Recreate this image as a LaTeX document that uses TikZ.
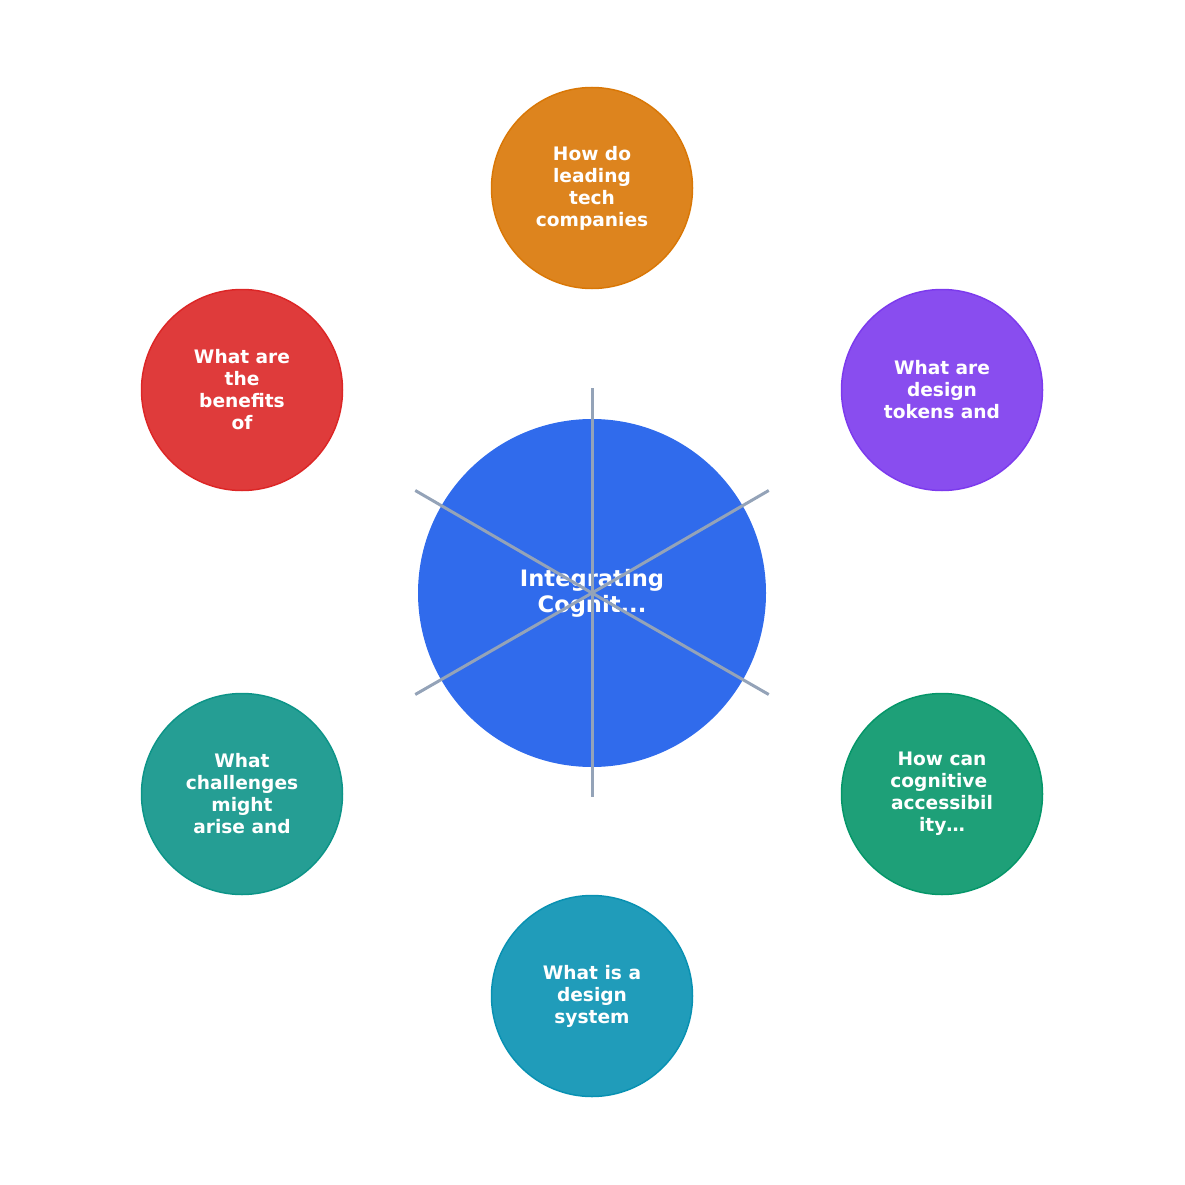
\documentclass[tikz,border=0pt]{standalone}
\usepackage{fontspec}
\setmainfont{DejaVu Sans}
\usetikzlibrary{calc}
\definecolor{hubblue}{HTML}{2563EB}
\definecolor{qorange}{HTML}{D97706}
\definecolor{qpurple}{HTML}{7C3AED}
\definecolor{qgreen}{HTML}{059669}
\definecolor{qcyan}{HTML}{0891B2}
\definecolor{qteal}{HTML}{0D9488}
\definecolor{qred}{HTML}{DC2626}
\definecolor{spokegray}{HTML}{94A3B8}

\begin{document}
\begin{tikzpicture}[x=1pt,y=1pt,yscale=-1,xscale=1,
  hub/.style={circle,minimum size=348pt,inner sep=0pt,fill=hubblue,fill opacity=0.95,text opacity=1,
    text=white,align=center,font=\fontsize{22.6}{26}\selectfont\bfseries},
  topic/.style={circle,minimum size=201pt,inner sep=0pt,line width=1.5pt,draw=#1,fill=#1,fill opacity=0.9,
    draw opacity=1,text opacity=1,text=white,align=center,font=\fontsize{18.6}{22}\selectfont\bfseries},
  spoke/.style={spokegray,line width=3pt}]
%set diagram to the full 1185 x 1185 frame
\path [use as bounding box] (0,0) rectangle (1185,1185);

% Central node
\node [hub] (hub) at (592,593) {Integrating\\Cognit...};

% Question nodes
\node [topic=qorange] (q1) at (592,188) {How do\\leading\\tech\\companies};
\node [topic=qpurple] (q2) at (942,390) {What are\\design\\tokens and};
\node [topic=qgreen] (q3) at (942,794) {How can\\cognitive\kern0.35em\\accessibil\\ity…};
\node [topic=qcyan] (q4) at (592,996) {What is a\\design\\system};
\node [topic=qteal] (q5) at (242,794) {What\\challenges\\might\\arise and};
\node [topic=qred] (q6) at (242,390) {What are\\the\\benefits\\of};

% Spokes
\foreach \q in {q1,q2,q3,q4,q5,q6}{
  \coordinate (end-\q) at ($(hub.center)!0.505!(\q.center)$);
  \draw [spoke] (hub.center) -- (end-\q);
}

\end{tikzpicture}
\end{document}
